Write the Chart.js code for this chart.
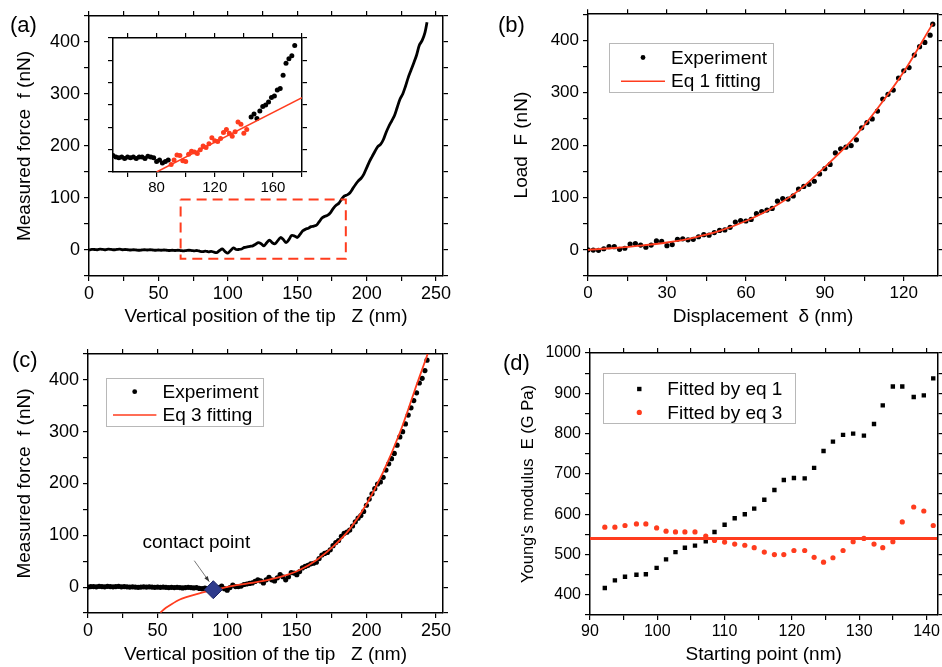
<!DOCTYPE html>
<html>
<head>
<meta charset="utf-8">
<script src="https://cdn.jsdelivr.net/npm/chart.js"></script>
<style>
  body { margin: 0; background: #fff; width: 942px; height: 667px; position: relative; overflow: hidden;
         font-family: "Liberation Sans", Arial, sans-serif; }
  canvas { position: absolute; }
  .tag { position: absolute; font-size: 22px; line-height: 22px; color: #000; }
</style>
</head>
<body>
<canvas id="chartA" width="470" height="330" style="left:0;top:0"></canvas>
<canvas id="chartInset" width="230" height="175" style="left:80px;top:25px"></canvas>
<canvas id="chartB" width="462" height="330" style="left:480px;top:0"></canvas>
<canvas id="chartC" width="470" height="337" style="left:0;top:330px"></canvas>
<canvas id="chartD" width="462" height="337" style="left:480px;top:330px"></canvas>
<div class="tag" style="left:10px;top:14px">(a)</div>
<div class="tag" style="left:498px;top:14px">(b)</div>
<div class="tag" style="left:12px;top:349px">(c)</div>
<div class="tag" style="left:503px;top:352px">(d)</div>
<script>
// ---- values ----

// (a) and (c): measured force vs vertical tip position
const zTip = [
  0, 2, 4, 6, 8, 10, 12, 14, 16, 18,
  20, 22, 24, 26, 28, 30, 32, 34, 36, 38,
  40, 42, 44, 46, 48, 50, 52, 54, 56, 58,
  60, 62, 64, 66, 68, 70, 72, 74, 76, 78,
  80, 82, 84, 86, 88, 90, 92, 94, 96, 98,
  100, 102, 104, 106, 108, 110, 112, 114, 116, 118,
  120, 122, 124, 126, 128, 130, 132, 134, 136, 138,
  140, 142, 144, 146, 148, 150, 152, 154, 156, 158,
  160, 162, 164, 166, 168, 170, 172, 174, 176, 178,
  180, 182, 184, 186, 188, 190, 192, 194, 196, 198,
  200, 202, 204, 206, 208, 210, 212, 214, 216, 218,
  220, 222, 224, 226, 228, 230, 232, 234, 236, 238,
  240, 242, 243.5
];
const fMeasured = [
  0, 1, 1, 0.5, 1.5, 1, 0.5, 1.5, 1, 0.5,
  1, 1.5, 0.5, 1, 0.5, 0, 0.5, 0, -0.5, 0,
  0.5, 0, 0.5, 0, -0.5, 0, -0.5, 0, -0.5, -1,
  -0.5, -1, -0.5, -1, -1.5, -1, -0.5, -1, -1.5, -1,
  -2.5, -3, -2, -3.5, -2.5, -4, -5, -1, 2, -3,
  -6, -1, 4, 1, 1, 2, 5, 6, 7, 8,
  11, 14, 12, 8, 14, 19, 14, 12, 18, 24,
  20, 14, 20, 28, 27, 24, 30, 37, 40, 42,
  45, 46, 48, 55, 62, 65, 67, 72, 80, 86,
  90, 98, 104, 106, 110, 118, 126, 133, 138, 146,
  158, 170, 180, 190, 199, 203, 212, 226, 238, 248,
  258, 274, 290, 300, 315, 332, 346, 360, 375, 394,
  403, 418, 438
];

// (a) dashed box marking the zoomed region
const boxZ = [66, 185, 185, 66, 66];
const boxF = [97, 97, -17, -17, 97];

// (a) inset
const insetPreZ = [50, 52, 54, 56, 58, 60, 62, 64, 66, 68, 70, 72, 74, 76, 78, 80, 82, 84, 86, 88];
const insetPreF = [1, 0, -0.5, 0, -1, 0, -0.5, 0, -1, 0, 0, -1, 0.5, 0, -0.5, -3, -2, -4, -3, -2];
const insetFitZ = [90, 92, 94, 96, 98, 100, 102, 104, 106, 108, 110, 112, 114, 116, 118, 120, 122, 124, 126, 128, 130, 132, 134, 136, 138, 140, 142];
const insetFitF = [-5, -2, 1.5, 1, -2.5, -3, 2, 4, 3.5, 2.5, 5, 7.5, 6.5, 9, 13, 11, 10.5, 12.5, 16.5, 18.5, 16, 14, 17, 23.5, 22, 16, 18.5];
const insetPostZ = [145, 147, 149, 151, 153, 155, 157, 159, 161, 163, 165, 167, 169, 171, 173, 175];
const insetPostF = [27, 29, 26, 31, 34, 35, 37, 40, 41, 45, 46, 55, 63, 66, 68, 75];
const insetLineZ = [80, 180];
const insetLineF = [-10, 40];

// (b) load vs displacement
const deltaExp = [
  0, 2, 4, 6, 8, 10, 12, 14, 16, 18, 20, 22, 24, 26, 28, 30, 32, 34, 36, 38,
  40, 42, 44, 46, 48, 50, 52, 54, 56, 58, 60, 62, 64, 66, 68, 70, 72, 74, 76, 78,
  80, 82, 84, 86, 88, 90, 92, 94, 96, 98, 100, 102, 104, 106, 108, 110, 112, 114, 116, 118,
  120, 122, 124, 126, 128, 130, 131
];
const loadExp = [
  0, -0.5, -1, 2, 6, 6, 1, 3, 11, 12, 9, 5, 9, 17, 16, 8, 10, 20, 21, 19,
  20, 25, 29, 28, 33, 37, 38, 43, 53, 56, 55, 58, 69, 73, 76, 79, 93, 98, 97, 103,
  116, 121, 125, 131, 145, 155, 163, 185, 193, 196, 199, 210, 233, 243, 250, 265, 288, 297, 305, 328,
  342, 348, 372, 388, 396, 410, 431
];
const deltaFit = [0, 10, 20, 30, 40, 50, 60, 70, 80, 90, 100, 110, 120, 131];
const loadFit = [0, 3.5, 8, 14, 23, 36, 55, 80, 113, 158, 208, 270, 340, 432];

// (c) Eq 3 fit and contact point
const zFit3 = [52, 56, 60, 66, 70, 80, 91, 104, 115, 128, 140, 152, 164, 176, 188, 200, 212, 224, 230, 236, 240, 245];
const fFit3 = [-49, -40, -33, -24, -20, -12, -5, 2.5, 7, 13, 21, 33, 52, 78, 112, 160, 222, 298, 343, 390, 420, 458];
const contactZ = [90];
const contactF = [-5];

// (d) Young's modulus vs starting point
const startPoint = [
  92.2, 93.7, 95.2, 96.9, 98.3, 99.9, 101.3, 102.7, 104.1, 105.6, 107.2, 108.5,
  110, 111.5, 113, 114.4, 115.9, 117.4, 118.8, 120.3, 121.9, 123.3, 124.7, 126.1,
  127.6, 129.1, 130.7, 132.2, 133.5, 135, 136.4, 138.1, 139.6, 141
];
const modulusEq1 = [
  417, 436, 445, 450, 451, 467, 488, 506, 517, 522, 533, 556,
  574, 590, 600, 614, 636, 660, 685, 690, 689, 715, 757, 780,
  797, 800, 795, 824, 870, 917, 917, 891, 895, 937
];
const modulusEq3 = [
  568, 568, 572, 576, 576, 566, 558, 556, 556, 556, 546, 535,
  531, 526, 523, 517, 506, 500, 500, 510, 510, 493, 481, 492,
  510, 532, 540, 526, 517, 532, 581, 618, 608, 572
];
const modulusEq3Mean = 540;

// ---- styling ----
const RED = '#ff3c1e';
Chart.defaults.font.family = '"Liberation Sans", Arial, sans-serif';
Chart.defaults.color = '#000';

const pts = (xs, ys) => xs.map((x, i) => ({x: x, y: ys[i]}));

// four-sided Origin style frame: bottom/left with labels, top/right mirrored ticks only
function frame(o) {
  const grid = {drawOnChartArea: false, color: '#000', lineWidth: 1.2, tickLength: 5};
  const border = {display: true, color: '#000', width: 1.5};
  const label = major => v => (Math.abs(v % major) < 1e-9 ? String(v) : '');
  const tickFont = {size: o.tickSize || 18};
  return {
    x: {
      type: 'linear', position: 'bottom', min: o.x[0], max: o.x[1],
      ticks: {stepSize: o.x[2], callback: label(o.x[3]), includeBounds: false, autoSkip: false,
              maxRotation: 0, font: tickFont, padding: 2},
      grid: grid, border: border,
      title: {display: !!o.xTitle, text: o.xTitle, font: {size: 19}, padding: {top: 0, bottom: o.xPad || 0}},
      afterFit: s => { s.height = o.bottom; }
    },
    y: {
      type: 'linear', position: 'left', min: o.y[0], max: o.y[1],
      ticks: {stepSize: o.y[2], callback: label(o.y[3]), includeBounds: false, autoSkip: false,
              font: tickFont, padding: 4},
      grid: grid, border: border,
      title: {display: !!o.yTitle, text: o.yTitle, font: {size: o.yTitleSize || 19}, padding: {top: o.yPad || 0, bottom: 0}},
      afterFit: s => { s.width = o.left; }
    },
    x2: {
      type: 'linear', position: 'top', min: o.x[0], max: o.x[1],
      ticks: {display: false, stepSize: o.x[2], includeBounds: false, autoSkip: false},
      grid: grid, border: border,
      afterFit: s => { s.height = 0; }
    },
    y2: {
      type: 'linear', position: 'right', min: o.y[0], max: o.y[1],
      ticks: {display: false, stepSize: o.y[2], includeBounds: false, autoSkip: false},
      grid: grid, border: border,
      afterFit: s => { s.width = 0; }
    }
  };
}

// framed legend drawn inside the plot area
const boxLegend = {
  id: 'boxLegend',
  afterDatasetsDraw(chart, args, opts) {
    if (!opts.rows) return;
    const ctx = chart.ctx, ca = chart.chartArea;
    const b = opts.box;
    ctx.save();
    ctx.fillStyle = '#fff';
    ctx.fillRect(ca.left + b[0], ca.top + b[1], b[2], b[3]);
    ctx.strokeStyle = '#b8b8b8';
    ctx.lineWidth = 1;
    ctx.strokeRect(Math.round(ca.left + b[0]) + 0.5, Math.round(ca.top + b[1]) + 0.5, b[2], b[3]);
    opts.rows.forEach(r => {
      const ds = chart.data.datasets[r.ds];
      const y = ca.top + r.y;
      if (ds.showLine) {
        ctx.strokeStyle = ds.borderColor;
        ctx.lineWidth = 1.5;
        ctx.beginPath();
        ctx.moveTo(ca.left + r.x1, y);
        ctx.lineTo(ca.left + r.x2, y);
        ctx.stroke();
      } else {
        ctx.fillStyle = ds.pointBackgroundColor;
        ctx.strokeStyle = ds.pointBackgroundColor;
        Chart.helpers.drawPoint(ctx, {pointStyle: ds.pointStyle || 'circle', radius: r.r, borderWidth: 0, rotation: 0},
                                ca.left + r.x, y);
      }
      ctx.fillStyle = '#000';
      ctx.font = '19px "Liberation Sans", Arial, sans-serif';
      ctx.textBaseline = 'middle';
      ctx.textAlign = 'left';
      ctx.fillText(ds.label, ca.left + r.tx, y + 1);
    });
    ctx.restore();
  }
};

// "contact point" label with arrow in (c)
const contactNote = {
  id: 'contactNote',
  afterDatasetsDraw(chart, args, opts) {
    if (!opts.text) return;
    const ctx = chart.ctx;
    const px = chart.scales.x.getPixelForValue(contactZ[0]);
    const py = chart.scales.y.getPixelForValue(contactF[0]);
    ctx.save();
    ctx.fillStyle = '#000';
    ctx.font = '19px "Liberation Sans", Arial, sans-serif';
    ctx.textAlign = 'center';
    ctx.textBaseline = 'middle';
    ctx.fillText(opts.text, px - 17, py - 47);
    const x1 = px - 19, y1 = py - 29, x2 = px - 4, y2 = py - 8;
    ctx.strokeStyle = '#555';
    ctx.lineWidth = 0.8;
    ctx.beginPath();
    ctx.moveTo(x1, y1);
    ctx.lineTo(x2, y2);
    ctx.stroke();
    const a = Math.atan2(y2 - y1, x2 - x1);
    ctx.fillStyle = '#333';
    ctx.beginPath();
    ctx.moveTo(x2, y2);
    ctx.lineTo(x2 - 6 * Math.cos(a - 0.35), y2 - 6 * Math.sin(a - 0.35));
    ctx.lineTo(x2 - 6 * Math.cos(a + 0.35), y2 - 6 * Math.sin(a + 0.35));
    ctx.closePath();
    ctx.fill();
    ctx.restore();
  }
};

const base = {
  responsive: false,
  animation: false,
  devicePixelRatio: 1,
  events: [],
  plugins: {legend: {display: false}, tooltip: {enabled: false}}
};

// (a) force curve
new Chart(document.getElementById('chartA'), {
  type: 'scatter',
  data: {
    datasets: [
      {data: pts(boxZ, boxF), showLine: true, borderColor: RED, borderWidth: 2, borderDash: [10, 6], pointRadius: 0},
      {data: pts(zTip, fMeasured), showLine: true, borderColor: '#000', borderWidth: 2.8, tension: 0.3, pointRadius: 0}
    ]
  },
  options: Object.assign({}, base, {
    layout: {padding: {left: 0, top: 16, right: 27, bottom: 0}},
    scales: frame({x: [0, 255, 25, 50], y: [-50, 450, 50, 100], left: 89, bottom: 54,
                   xTitle: 'Vertical position of the tip   Z (nm)', xPad: 1.6,
                   yTitle: 'Measured force  f (nN)', yPad: 13.6})
  })
});

// (a) inset
new Chart(document.getElementById('chartInset'), {
  type: 'scatter',
  data: {
    datasets: [
      {data: pts(insetLineZ, insetLineF), showLine: true, borderColor: RED, borderWidth: 1.5, pointRadius: 0},
      {data: pts(insetFitZ, insetFitF), pointRadius: 2.5, pointBackgroundColor: RED, pointBorderWidth: 0},
      {data: pts(insetPreZ, insetPreF), pointRadius: 2.5, pointBackgroundColor: '#000', pointBorderWidth: 0},
      {data: pts(insetPostZ, insetPostF), pointRadius: 2.5, pointBackgroundColor: '#000', pointBorderWidth: 0}
    ]
  },
  options: Object.assign({}, base, {
    layout: {padding: {left: 0, top: 8, right: 8, bottom: 0}},
    scales: frame({x: [50, 180, 20, 40], y: [-10, 80, 15, 30], left: 33, bottom: 28, tickSize: 15})
  })
});

// (b) load vs displacement with Eq 1 fit
new Chart(document.getElementById('chartB'), {
  type: 'scatter',
  data: {
    datasets: [
      {label: 'Eq 1 fitting', data: pts(deltaFit, loadFit), showLine: true, borderColor: RED, borderWidth: 1.8,
       cubicInterpolationMode: 'monotone', pointRadius: 0},
      {label: 'Experiment', data: pts(deltaExp, loadExp), pointRadius: 2.6, pointBackgroundColor: '#000', pointBorderWidth: 0}
    ]
  },
  options: Object.assign({}, base, {
    layout: {padding: {left: 0, top: 14, right: 1, bottom: 0}},
    scales: frame({x: [0, 133, 15, 30], y: [-50, 450, 50, 100], left: 108, bottom: 54, tickSize: 17,
                   xTitle: 'Displacement  δ (nm)', xPad: 1.6,
                   yTitle: 'Load  F (nN)', yPad: 30}),
    plugins: Object.assign({}, base.plugins, {
      boxLegend: {box: [21, 29, 164, 49], rows: [
        {ds: 1, y: 43.3, x: 55, r: 2.4, tx: 83},
        {ds: 0, y: 67, x1: 33, x2: 77, tx: 83}
      ]}
    })
  }),
  plugins: [boxLegend]
});

// (c) force curve with Eq 3 fit
new Chart(document.getElementById('chartC'), {
  type: 'scatter',
  data: {
    datasets: [
      {label: 'contact point', data: pts(contactZ, contactF), pointStyle: 'rectRot', pointRadius: 9,
       pointBackgroundColor: '#2e3b8c', pointBorderColor: '#1d2566', pointBorderWidth: 1},
      {label: 'Eq 3 fitting', data: pts(zFit3, fFit3), showLine: true, borderColor: RED, borderWidth: 1.8,
       cubicInterpolationMode: 'monotone', pointRadius: 0},
      {label: 'Experiment', data: pts(zTip, fMeasured), pointRadius: 2.6, pointBackgroundColor: '#000', pointBorderWidth: 0}
    ]
  },
  options: Object.assign({}, base, {
    layout: {padding: {left: 0, top: 24, right: 27, bottom: 0}},
    scales: frame({x: [0, 255, 25, 50], y: [-50, 450, 50, 100], left: 88, bottom: 54,
                   xTitle: 'Vertical position of the tip   Z (nm)', xPad: 0.6,
                   yTitle: 'Measured force  f (nN)', yPad: 13.6}),
    plugins: Object.assign({}, base.plugins, {
      boxLegend: {box: [18, 24, 157, 48], rows: [
        {ds: 2, y: 37.7, x: 46.7, r: 2.4, tx: 74.5},
        {ds: 1, y: 61, x1: 25, x2: 68.4, tx: 74.5}
      ]},
      contactNote: {text: 'contact point'}
    })
  }),
  plugins: [boxLegend, contactNote]
});

// (d) Young's modulus vs starting point
new Chart(document.getElementById('chartD'), {
  type: 'scatter',
  data: {
    datasets: [
      {label: 'Eq 3 mean', data: pts([90, 141.6], [modulusEq3Mean, modulusEq3Mean]), showLine: true,
       borderColor: RED, borderWidth: 3, pointRadius: 0},
      {label: 'Fitted by eq 3', data: pts(startPoint, modulusEq3), pointRadius: 2.6, pointBackgroundColor: RED, pointBorderWidth: 0},
      {label: 'Fitted by eq 1', data: pts(startPoint, modulusEq1), pointStyle: 'rect', pointRadius: 3.1,
       pointBackgroundColor: '#000', pointBorderWidth: 0}
    ]
  },
  options: Object.assign({}, base, {
    layout: {padding: {left: 0, top: 23, right: 1, bottom: 0}},
    scales: frame({x: [90, 141.6, 5, 10], y: [350, 1000, 50, 100], left: 110, bottom: 52, tickSize: 16,
                   xTitle: 'Starting point (nm)', xPad: 0.6,
                   yTitle: "Young's modulus  E (G Pa)", yTitleSize: 16.5, yPad: 38.5}),
    plugins: Object.assign({}, base.plugins, {
      boxLegend: {box: [13, 20, 192, 50], rows: [
        {ds: 2, y: 36, x: 49.3, r: 3.1, tx: 77.3},
        {ds: 1, y: 59.4, x: 49.3, r: 2.6, tx: 77.3}
      ]}
    })
  }),
  plugins: [boxLegend]
});
</script>
</body>
</html>
